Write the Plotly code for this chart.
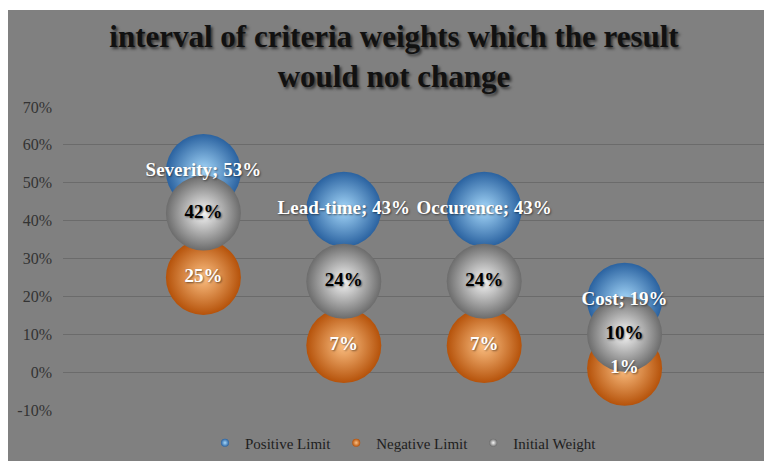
import plotly.graph_objects as go

# criteria and weight intervals (percent)
criteria = ["Severity", "Lead-time", "Occurence", "Cost"]
positive_limit = [53, 43, 43, 19]
negative_limit = [25, 7, 7, 1]
initial_weight = [42, 24, 24, 10]
y_ticks = [-10, 0, 10, 20, 30, 40, 50, 60, 70]

x_pos = list(range(1, len(criteria) + 1))
serif = "Liberation Serif, Times New Roman, serif"

series = [
    ("Positive Limit", positive_limit, "#2a62a0", "#a6d8fa", "white"),
    ("Negative Limit", negative_limit, "#b5520a", "#fcc083", "white"),
    ("Initial Weight", initial_weight, "#6c6c6c", "#f6f6f6", "black"),
]

fig = go.Figure()

# spheres first
for name, vals, edge, centre, _ in series:
    fig.add_trace(go.Scatter(
        x=x_pos, y=vals, mode="markers", name=name, showlegend=False,
        marker=dict(size=75, color=edge, line=dict(width=0),
                    gradient=dict(type="radial", color=centre)),
        hoverinfo="skip",
    ))

# labels on top of every sphere
for name, vals, _, _, tcolor in series:
    if name == "Positive Limit":
        labels = [f"{c}; {v}%" for c, v in zip(criteria, vals)]
    else:
        labels = [f"{v}%" for v in vals]
    fig.add_trace(go.Scatter(
        x=x_pos, y=vals, mode="text", text=labels, textposition="middle center",
        textfont=dict(family=serif, size=19, color=tcolor, weight="bold",
                      shadow="1px 1px 2px rgba(0,0,0,0.5)"),
        showlegend=False, hoverinfo="skip",
    ))

# legend entries with small sphere symbols
for name, _, edge, centre, _ in series:
    fig.add_trace(go.Scatter(
        x=[None], y=[None], mode="markers", name=name,
        marker=dict(size=8, color=edge, line=dict(width=0),
                    gradient=dict(type="radial", color=centre)),
    ))

# the page body adds an 8px margin, so the figure is laid out 8px up/left
fig.update_layout(
    width=772, height=461,
    margin=dict(l=55, r=15, t=99, b=59, autoexpand=False),
    paper_bgcolor="#808080",
    plot_bgcolor="#808080",
    title=dict(
        text="interval of criteria weights which the result<br>would not change",
        x=0.5, xanchor="center", y=0.916, yanchor="middle",
        font=dict(family=serif, size=31, color="#111111", weight="bold",
                  shadow="2px 2px 3px rgba(0,0,0,0.6)"),
    ),
    legend=dict(
        orientation="h", x=0.485, xanchor="center", y=-0.109, yanchor="middle",
        font=dict(family=serif, size=15, color="#1e1e1e"),
        itemsizing="trace", bgcolor="rgba(0,0,0,0)",
        itemwidth=30, tracegroupgap=0,
    ),
    shapes=[dict(
        type="rect", xref="paper", yref="paper",
        x0=-55 / 702, x1=(772 - 55) / 702,
        y0=(303 + 97) / 303, y1=(303 + 99) / 303,
        fillcolor="white", line=dict(width=0), layer="below",
    )],
)

fig.update_xaxes(range=[0, len(criteria) + 1], showgrid=False, zeroline=False,
                 showticklabels=False, showline=False)
fig.update_yaxes(
    range=[-10, 70], tickvals=y_ticks, ticktext=[f"{v}%" for v in y_ticks],
    showgrid=True, gridcolor="#6b6b6b", gridwidth=1,
    zeroline=True, zerolinecolor="#6b6b6b", zerolinewidth=1,
    showline=False, ticks="", ticklabelstandoff=10,
    tickfont=dict(family=serif, size=16, color="#333333"),
)

fig.write_html("out.html")
